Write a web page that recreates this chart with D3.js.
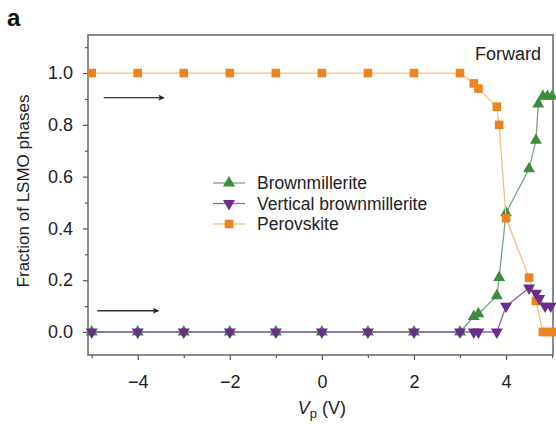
<!DOCTYPE html>
<html>
<head>
<meta charset="utf-8">
<script src="https://cdn.jsdelivr.net/npm/d3@7"></script>
<style>
  html, body { margin: 0; padding: 0; background: #fff; }
  text { font-family: "Liberation Sans", Arial, sans-serif; }
</style>
</head>
<body>
<svg id="chart" width="556" height="428"></svg>
<script>
// ---------- data ----------
const seriesNames = ["Brownmillerite", "Vertical brownmillerite", "Perovskite"];

const brownX = [-5, -4, -3, -2, -1, 0, 1, 2, 3, 3.3, 3.4, 3.8, 3.85, 4.0, 4.5, 4.65, 4.7, 4.8, 4.9, 5.0];
const brownY = [0, 0, 0, 0, 0, 0, 0, 0, 0, 0.06, 0.07, 0.14, 0.21, 0.46, 0.63, 0.74, 0.88, 0.91, 0.91, 0.91];

const vertX = [-5, -4, -3, -2, -1, 0, 1, 2, 3, 3.3, 3.4, 3.8, 4.0, 4.5, 4.65, 4.72, 4.85, 4.97];
const vertY = [0, 0, 0, 0, 0, 0, 0, 0, 0, 0, 0, 0, 0.10, 0.17, 0.15, 0.13, 0.10, 0.10];

const perovX = [-5, -4, -3, -2, -1, 0, 1, 2, 3, 3.3, 3.4, 3.8, 3.85, 4.0, 4.5, 4.65, 4.8, 4.9, 5.0];
const perovY = [1, 1, 1, 1, 1, 1, 1, 1, 1, 0.96, 0.94, 0.87, 0.80, 0.44, 0.21, 0.12, 0, 0, 0];

const xTicks = [-4, -2, 0, 2, 4];
const xMinorTicks = [-5, -3, -1, 1, 3, 5];
const yTicks = [0.0, 0.2, 0.4, 0.6, 0.8, 1.0];
const yMinorTicks = [0.1, 0.3, 0.5, 0.7, 0.9, 1.1];

const arrows = [
  { x1: -4.74, x2: -3.43, y: 0.905 },
  { x1: -4.88, x2: -3.55, y: 0.082 }
];

// ---------- layout ----------
const svg = d3.select("#chart");
const L = 88, R = 553, T = 35, B = 355;
const x = d3.scaleLinear().domain([-5.08, 5.02]).range([L, R]);
const y = d3.scaleLinear().domain([-0.0888, 1.147]).range([B, T]);

const colors = {
  brown: "#3d8b3d", brownLine: "#7aa582",
  vert: "#6b2c8c", vertLine: "#8a67a3",
  perov: "#ea8420", perovLine: "#f3bd88"
};

// defs
const defs = svg.append("defs");
defs.append("marker").attr("id", "arrowhead")
  .attr("viewBox", "0 0 10 10").attr("refX", 9).attr("refY", 5)
  .attr("markerWidth", 10).attr("markerHeight", 6).attr("orient", "auto")
  .attr("markerUnits", "userSpaceOnUse")
  .append("path").attr("d", "M0,0 L10,5 L0,10 L2,5 Z").attr("fill", "#222");

// axes
const xAxis = d3.axisBottom(x).tickValues(xTicks).tickSize(5).tickPadding(15)
  .tickFormat(d => d < 0 ? "\u2212" + Math.abs(d) : String(d));
const gx = svg.append("g").attr("transform", `translate(0,${B})`).call(xAxis);
const gxm = svg.append("g").attr("transform", `translate(0,${B})`)
  .call(d3.axisBottom(x).tickValues(xMinorTicks).tickSize(3).tickFormat(""));

const yAxis = d3.axisLeft(y).tickValues(yTicks).tickSize(5).tickPadding(10)
  .tickFormat(d3.format(".1f"));
const gy = svg.append("g").attr("transform", `translate(${L},0)`).call(yAxis);
const gym = svg.append("g").attr("transform", `translate(${L},0)`)
  .call(d3.axisLeft(y).tickValues(yMinorTicks).tickSize(3).tickFormat(""));

[gx, gxm, gy, gym].forEach(g => {
  g.select(".domain").remove();
  g.selectAll("line").attr("stroke", "#555").attr("stroke-width", 1.2);
  g.selectAll("text").attr("fill", "#222").style("font-size", "18px")
    .style("font-family", "'Liberation Sans', Arial, sans-serif");
});

// frame
svg.append("rect").attr("x", L).attr("y", T).attr("width", R - L).attr("height", B - T)
  .attr("fill", "none").attr("stroke", "#666").attr("stroke-width", 1.5);

// axis titles
svg.append("text").attr("transform", `translate(29,191) rotate(-90)`)
  .attr("text-anchor", "middle").style("font-size", "17px").attr("fill", "#222")
  .text("Fraction of LSMO phases");

const xl = svg.append("text").attr("x", x(0)).attr("y", 414)
  .attr("text-anchor", "middle").style("font-size", "18px").attr("fill", "#222");
xl.append("tspan").style("font-style", "italic").text("V");
xl.append("tspan").attr("dy", 4).style("font-size", "13px").text("p");
xl.append("tspan").attr("dy", -4).text(" (V)");

// panel label
svg.append("text").attr("x", 7).attr("y", 26).style("font-size", "24px")
  .style("font-weight", "bold").attr("fill", "#111").text("a");

// "Forward"
svg.append("text").attr("x", 541).attr("y", 60).attr("text-anchor", "end")
  .style("font-size", "18px").attr("fill", "#222").text("Forward");

// arrows
svg.selectAll(".arrow").data(arrows).enter().append("line")
  .attr("x1", d => x(d.x1)).attr("x2", d => x(d.x2))
  .attr("y1", d => y(d.y)).attr("y2", d => y(d.y))
  .attr("stroke", "#333").attr("stroke-width", 1.3)
  .attr("marker-end", "url(#arrowhead)");

// series
const plot = svg.append("g");
const line = d3.line().x(d => x(d[0])).y(d => y(d[1]));
const zip = (xs, ys) => xs.map((v, i) => [v, ys[i]]);

const brownData = zip(brownX, brownY);
const vertData = zip(vertX, vertY);
const perovData = zip(perovX, perovY);

const upTri = d3.symbol().type(d3.symbolTriangle).size(62);
const downTri = d3.symbol().type(d3.symbolTriangle).size(62);
const sq = d3.symbol().type(d3.symbolSquare).size(74);

function drawSeries(data, lineColor, color, sym, rot) {
  plot.append("path").datum(data).attr("d", line).attr("fill", "none")
    .attr("stroke", lineColor).attr("stroke-width", 1.3);
  plot.selectAll(null).data(data).enter().append("path")
    .attr("d", sym)
    .attr("transform", d => `translate(${x(d[0])},${y(d[1])}) rotate(${rot})`)
    .attr("fill", color);
}
drawSeries(brownData, colors.brownLine, colors.brown, upTri, 0);
drawSeries(perovData, colors.perovLine, colors.perov, sq, 0);
drawSeries(vertData, colors.vertLine, colors.vert, downTri, 180);

// legend
const legend = svg.append("g");
const legendItems = [
  { name: seriesNames[0], color: colors.brown, lineColor: colors.brownLine, sym: upTri, rot: 0 },
  { name: seriesNames[1], color: colors.vert, lineColor: colors.vertLine, sym: downTri, rot: 180 },
  { name: seriesNames[2], color: colors.perov, lineColor: colors.perovLine, sym: sq, rot: 0 }
];
legendItems.forEach((it, i) => {
  const yy = 183 + i * 20.5;
  legend.append("line").attr("x1", 213).attr("x2", 245).attr("y1", yy).attr("y2", yy)
    .attr("stroke", it.lineColor).attr("stroke-width", 1.3);
  legend.append("path").attr("d", it.sym)
    .attr("transform", `translate(229,${yy}) rotate(${it.rot})`).attr("fill", it.color);
  legend.append("text").attr("x", 257).attr("y", yy + 6).style("font-size", "17.5px")
    .attr("fill", "#222").text(it.name);
});
</script>
</body>
</html>
